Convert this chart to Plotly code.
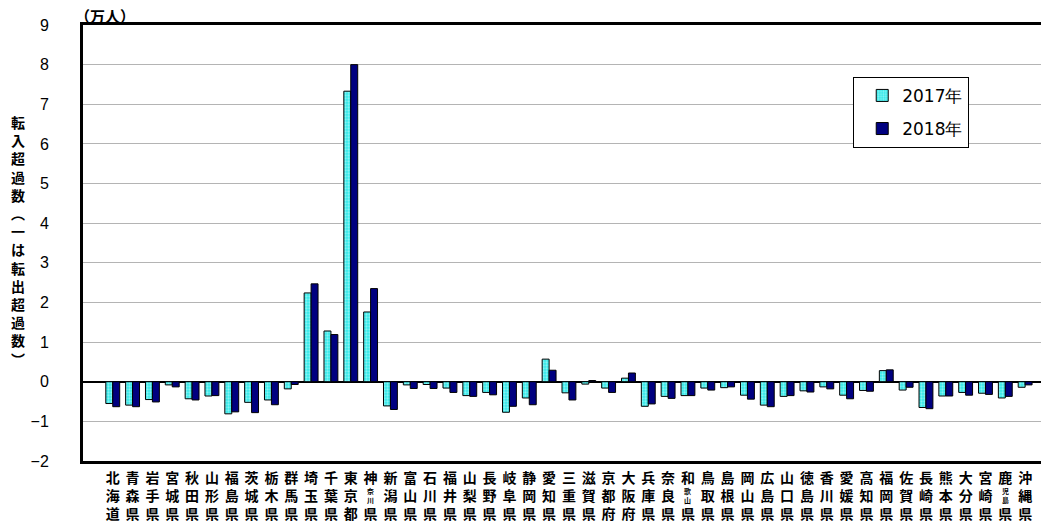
import plotly.graph_objects as go

prefs = ["北海道","青森県","岩手県","宮城県","秋田県","山形県","福島県","茨城県","栃木県","群馬県",
         "埼玉県","千葉県","東京都","神奈川県","新潟県","富山県","石川県","福井県","山梨県","長野県",
         "岐阜県","静岡県","愛知県","三重県","滋賀県","京都府","大阪府","兵庫県","奈良県","和歌山県",
         "鳥取県","島根県","岡山県","広島県","山口県","徳島県","香川県","愛媛県","高知県","福岡県",
         "佐賀県","長崎県","熊本県","大分県","宮崎県","鹿児島県","沖縄県"]

v2017 = [-0.55,-0.59,-0.45,-0.08,-0.43,-0.36,-0.81,-0.52,-0.46,-0.18,
         2.24,1.28,7.33,1.76,-0.61,-0.08,-0.07,-0.16,-0.35,-0.27,
         -0.77,-0.41,0.57,-0.28,-0.06,-0.16,0.09,-0.62,-0.37,-0.35,
         -0.16,-0.15,-0.34,-0.59,-0.37,-0.23,-0.13,-0.34,-0.22,0.28,
         -0.21,-0.65,-0.36,-0.27,-0.29,-0.41,-0.14]

v2018 = [-0.63,-0.63,-0.51,-0.13,-0.46,-0.35,-0.76,-0.78,-0.58,-0.07,
         2.47,1.19,8.00,2.35,-0.70,-0.17,-0.17,-0.27,-0.37,-0.33,
         -0.62,-0.58,0.29,-0.46,0.03,-0.27,0.22,-0.56,-0.42,-0.35,
         -0.21,-0.13,-0.44,-0.63,-0.35,-0.26,-0.18,-0.43,-0.24,0.30,
         -0.14,-0.68,-0.36,-0.34,-0.32,-0.37,-0.08]

series_names = ["2017年", "2018年"]
y_ticks = [-2, -1, 0, 1, 2, 3, 4, 5, 6, 7, 8, 9]
y_title = "転入超過数︵一は転出超過数︶"
unit_label = "（万人）"

CJK = "Noto Sans CJK JP"

# tick texts: vertical stacking; 4-char names have a small 2-char middle row
tick_text = []
small_mid = []
for p in prefs:
    if len(p) == 3:
        tick_text.append("<br>".join(p))
    else:
        tick_text.append(p[0] + "<br> <br>" + p[3])
        small_mid.append((p, p[1] + "<br>" + p[2]))

fig = go.Figure()
fig.add_trace(go.Bar(
    x=prefs, y=v2017, name=series_names[0], legendgroup="a",
    marker=dict(color="#33e8e8", line=dict(color="black", width=1),
                pattern=dict(shape=".", fgcolor="#dcffff", bgcolor="#33e8e8", size=3, solidity=0.45)),
))
fig.add_trace(go.Bar(
    x=prefs, y=v2018, name=series_names[1], legendgroup="b",
    marker=dict(color="#000080", line=dict(color="black", width=1)),
))

annotations = []
for p, t in small_mid:
    annotations.append(dict(x=p, y=-0.0795, xref="x", yref="paper", text=t, showarrow=False,
                            font=dict(family=CJK, size=7, color="black", weight="bold"),
                            yanchor="middle", xanchor="center"))
annotations.append(dict(x=0, y=0.5, xref="paper", yref="paper", xshift=-65, yshift=3,
                        text="<br>".join(y_title),
                        showarrow=False, font=dict(family=CJK, size=14, color="black", weight="bold"),
                        xanchor="center", yanchor="middle"))
annotations.append(dict(x=0, y=1, xref="paper", yref="paper", text=unit_label, showarrow=False,
                        font=dict(family=CJK, size=15, color="black", weight="bold"),
                        xanchor="left", yanchor="middle", xshift=-10, yshift=10))

fig.update_layout(
    width=1041, height=522,
    margin=dict(l=83, r=0, t=25, b=61),
    paper_bgcolor="white", plot_bgcolor="white",
    barmode="group", bargap=0.3, bargroupgap=0,
    showlegend=True,
    legend=dict(x=0.804, y=0.881, xanchor="left", yanchor="top",
                bgcolor="white", bordercolor="black", borderwidth=1,
                font=dict(family="DejaVu Sans", size=17, color="black"),
                tracegroupgap=8, traceorder="grouped", indentation=8),
    annotations=annotations,
    xaxis=dict(range=[-1.5, 46.8], tickmode="array", tickvals=prefs, ticktext=tick_text,
               tickangle=0, showgrid=False, showline=True, linecolor="black", linewidth=3,
               mirror=True, ticks="", ticklabelstandoff=2, automargin=False,
               tickfont=dict(family=CJK, size=14, color="black", weight="bold")),
    yaxis=dict(range=[-2, 9], tickmode="array", tickvals=y_ticks, showgrid=True,
               gridcolor="#b4b4b4", gridwidth=1, zeroline=True, zerolinecolor="black",
               zerolinewidth=2, showline=True, linecolor="black", linewidth=3, ticks="",
               ticklabelstandoff=28, automargin=False,
               tickfont=dict(family="Liberation Sans", size=16, color="black")),
)

fig.write_html("out.html", config={"displayModeBar": False},
               post_script="document.body.style.margin='0';document.body.style.overflow='hidden';")
